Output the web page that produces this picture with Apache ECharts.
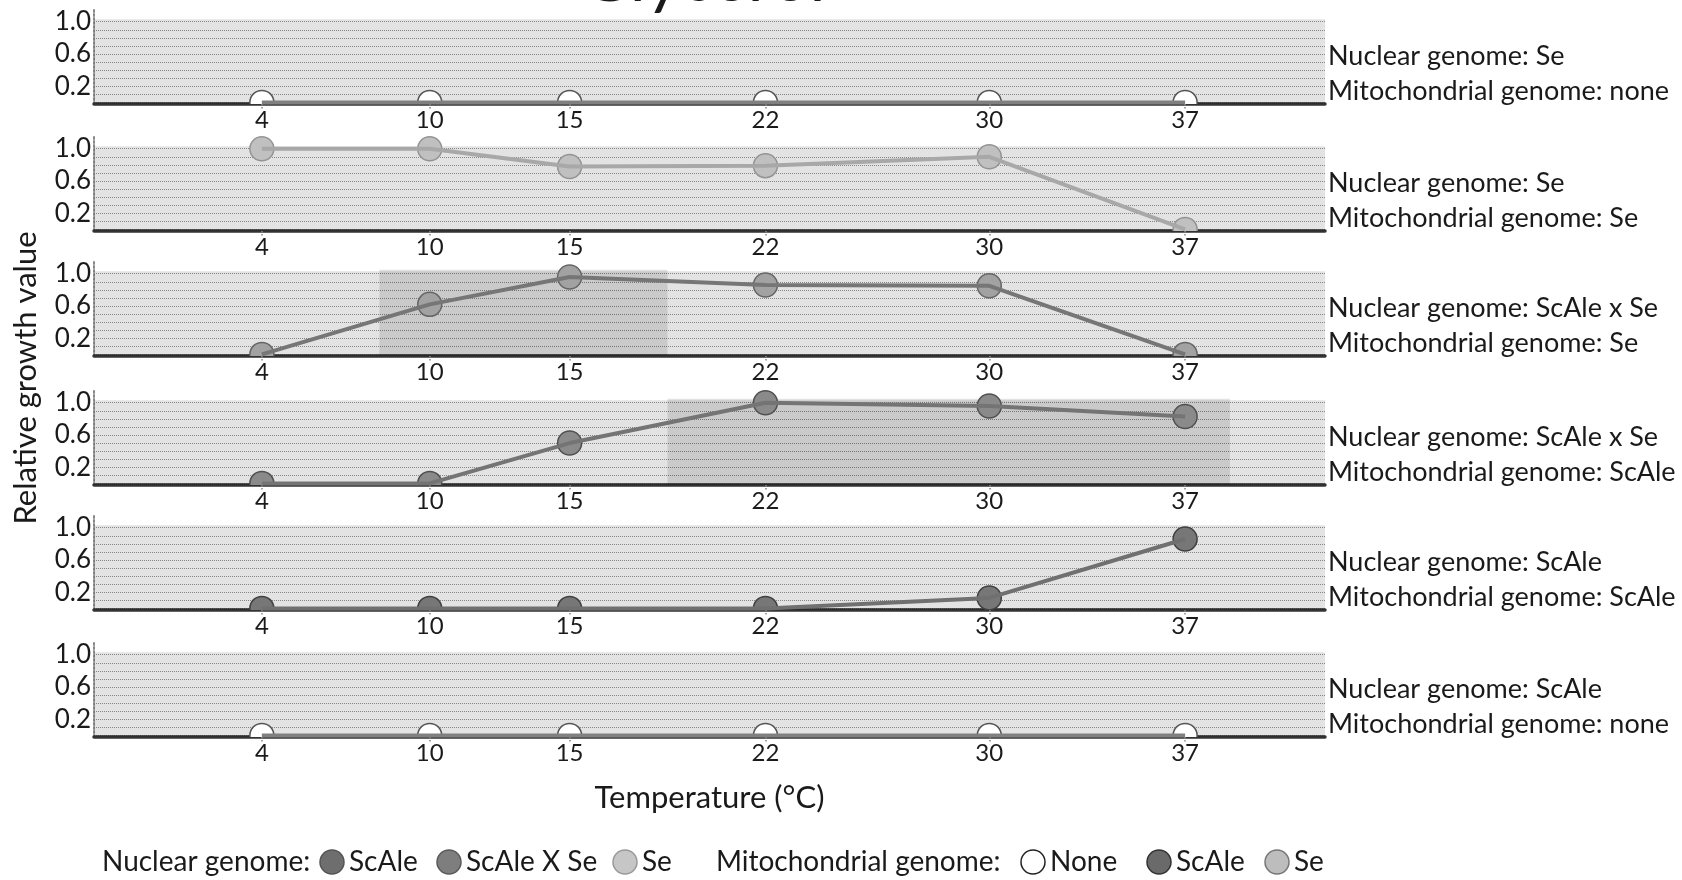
<!DOCTYPE html>
<html>
<head>
<meta charset="utf-8">
<title>Glycerol</title>
<script src="https://cdn.jsdelivr.net/npm/echarts@6/dist/echarts.min.js"></script>
<style>
  html, body { margin: 0; padding: 0; background: #fff; }
  #chart { width: 1682px; height: 880px; }
</style>
</head>
<body>
<div id="chart"></div>
<script>
// data
const temperatures = [4, 10, 15, 22, 30, 37];
const yTickLabels = [0.2, 0.6, 1.0];
const gridLineValues = [0, 0.1, 0.2, 0.3, 0.4, 0.5, 0.6, 0.7, 0.8, 0.9, 1.0];
const nuclearGenomes = ['Se', 'Se', 'ScAle x Se', 'ScAle x Se', 'ScAle', 'ScAle'];
const mitochondrialGenomes = ['none', 'Se', 'Se', 'ScAle', 'ScAle', 'none'];
const growthSeNone = [0, 0, 0, 0, 0, 0];
const growthSeSe = [1.0, 1.0, 0.78, 0.79, 0.9, 0];
const growthHybridSe = [0, 0.62, 0.96, 0.86, 0.85, 0];
const growthHybridScAle = [0, 0, 0.5, 1.0, 0.96, 0.83];
const growthScAleScAle = [0, 0, 0, 0, 0.13, 0.86];
const growthScAleNone = [0, 0, 0, 0, 0, 0];
// darker band behind the growth optimum (temperature range)
const shadedRanges = [null, null, [8.2, 18.5], [18.5, 38.6], null, null];
const nuclearLegend = ['ScAle', 'ScAle X Se', 'Se'];
const mitoLegend = ['None', 'ScAle', 'Se'];

const panels = [growthSeNone, growthSeSe, growthHybridSe, growthHybridScAle, growthScAleScAle, growthScAleNone];

// layout / look
const FONT = 'Lato, "Open Sans", sans-serif';
const baselines = [104, 231, 356, 485, 610, 737];
const GRID_LEFT = 94;
const GRID_WIDTH = 1231;
const GRID_HEIGHT = 96;
const X_MIN = -2, X_MAX = 42;
const Y_MIN = -0.02, Y_MAX = 1.17;
const MARKER_R = 12;
const panelStyles = [
  { line: '#808080', fill: '#ffffff', stroke: '#555' },
  { line: '#a8a8a8', fill: '#c0c0c0', stroke: '#949494' },
  { line: '#767676', fill: '#a2a2a2', stroke: '#666' },
  { line: '#747474', fill: '#8a8a8a', stroke: '#505050' },
  { line: '#707070', fill: '#777777', stroke: '#404040' },
  { line: '#808080', fill: '#ffffff', stroke: '#555' },
];
const nuclearLegendStyles = [
  { fill: '#6e6e6e', stroke: '#555' },
  { fill: '#7e7e7e', stroke: '#5a5a5a' },
  { fill: '#c6c6c6', stroke: '#999' },
];
const mitoLegendStyles = [
  { fill: '#ffffff', stroke: '#222' },
  { fill: '#6a6a6a', stroke: '#333' },
  { fill: '#bdbdbd', stroke: '#777' },
];

const chart = echarts.init(document.getElementById('chart'));

const grids = [];
const xAxes = [];
const yAxes = [];
const series = [];
const graphics = [];

panels.forEach((values, i) => {
  const style = panelStyles[i];
  const points = temperatures.map((t, k) => [t, values[k]]);
  grids.push({
    left: GRID_LEFT,
    width: GRID_WIDTH,
    top: baselines[i] - GRID_HEIGHT,
    height: GRID_HEIGHT,
  });
  xAxes.push({
    gridIndex: i,
    type: 'value',
    min: X_MIN,
    max: X_MAX,
    axisLine: { onZero: false, lineStyle: { color: '#333', width: 3.5 } },
    axisTick: { customValues: temperatures, length: 5, lineStyle: { color: '#888', type: 'dotted', width: 1.5 } },
    axisLabel: { customValues: temperatures, color: '#1a1a1a', fontSize: 24, fontFamily: FONT, margin: 4 },
    splitLine: { show: false },
    name: i === panels.length - 1 ? 'Temperature (°C)' : '',
    nameLocation: 'middle',
    nameGap: 45,
    nameTextStyle: { color: '#1a1a1a', fontSize: 31, fontFamily: FONT },
  });
  yAxes.push({
    gridIndex: i,
    type: 'value',
    min: Y_MIN,
    max: Y_MAX,
    axisLine: { show: true, onZero: false, lineStyle: { color: '#888', type: 'dotted', width: 2 } },
    axisTick: { show: false, customValues: gridLineValues },
    axisLabel: {
      customValues: yTickLabels,
      color: '#1a1a1a',
      fontSize: 26,
      fontFamily: FONT,
      margin: 3,
      formatter: (v) => v.toFixed(1),
    },
    splitLine: { show: true, lineStyle: { color: '#969696', type: 'dotted', width: 1 } },
  });

  const areas = [[{ xAxis: X_MIN, yAxis: Y_MIN }, { xAxis: X_MAX, yAxis: 1.03 }]];
  if (shadedRanges[i]) {
    areas.push([{ xAxis: shadedRanges[i][0], yAxis: Y_MIN }, { xAxis: shadedRanges[i][1], yAxis: 1.05 }]);
  }

  series.push({
    type: 'line',
    xAxisIndex: i,
    yAxisIndex: i,
    data: points,
    symbol: 'none',
    silent: true,
    lineStyle: { color: style.line, width: 4 },
    markArea: {
      silent: true,
      itemStyle: { color: 'rgba(0,0,0,0.11)' },
      data: areas,
    },
  });
  // markers, clipped at the baseline like in the figure
  series.push({
    type: 'custom',
    xAxisIndex: i,
    yAxisIndex: i,
    clip: true,
    silent: true,
    z: 3,
    data: points,
    renderItem: (params, api) => {
      const c = api.coord([api.value(0), api.value(1)]);
      return {
        type: 'circle',
        shape: { cx: c[0], cy: c[1], r: MARKER_R },
        style: { fill: style.fill, stroke: style.stroke, lineWidth: 1.5 },
      };
    },
  });

  graphics.push({
    type: 'text', x: 1328, y: baselines[i] - 48,
    style: { text: 'Nuclear genome: ' + nuclearGenomes[i], fill: '#1a1a1a', font: '27px ' + FONT, verticalAlign: 'middle' },
  });
  graphics.push({
    type: 'text', x: 1328, y: baselines[i] - 13,
    style: { text: 'Mitochondrial genome: ' + mitochondrialGenomes[i], fill: '#1a1a1a', font: '27px ' + FONT, verticalAlign: 'middle' },
  });
});

// title (cut off at the top edge in the figure)
graphics.push({
  type: 'text', x: 703, y: 13,
  style: { text: 'Glycerol', fill: '#1a1a1a', font: '68px ' + FONT, align: 'center', verticalAlign: 'bottom' },
});
// shared y axis title
graphics.push({
  type: 'text', x: 26, y: 378, rotation: Math.PI / 2,
  style: { text: 'Relative growth value', fill: '#1a1a1a', font: '31px ' + FONT, align: 'center', verticalAlign: 'middle' },
});

// legend row
const LEGEND_Y = 862;
const legendFont = '28px ' + FONT;
graphics.push({ type: 'text', x: 102, y: LEGEND_Y, style: { text: 'Nuclear genome:', fill: '#1a1a1a', font: legendFont, verticalAlign: 'middle' } });
const nuclearX = [332, 449, 625];
nuclearLegend.forEach((name, k) => {
  graphics.push({ type: 'circle', shape: { cx: nuclearX[k], cy: LEGEND_Y, r: MARKER_R }, style: { fill: nuclearLegendStyles[k].fill, stroke: nuclearLegendStyles[k].stroke, lineWidth: 1.5 } });
  graphics.push({ type: 'text', x: nuclearX[k] + 17, y: LEGEND_Y, style: { text: name, fill: '#1a1a1a', font: legendFont, verticalAlign: 'middle' } });
});
graphics.push({ type: 'text', x: 716, y: LEGEND_Y, style: { text: 'Mitochondrial genome:', fill: '#1a1a1a', font: legendFont, verticalAlign: 'middle' } });
const mitoX = [1033, 1159, 1277];
mitoLegend.forEach((name, k) => {
  graphics.push({ type: 'circle', shape: { cx: mitoX[k], cy: LEGEND_Y, r: MARKER_R }, style: { fill: mitoLegendStyles[k].fill, stroke: mitoLegendStyles[k].stroke, lineWidth: 1.5 } });
  graphics.push({ type: 'text', x: mitoX[k] + 17, y: LEGEND_Y, style: { text: name, fill: '#1a1a1a', font: legendFont, verticalAlign: 'middle' } });
});

chart.setOption({
  animation: false,
  backgroundColor: '#ffffff',
  textStyle: { fontFamily: FONT },
  grid: grids,
  xAxis: xAxes,
  yAxis: yAxes,
  series: series,
  graphic: graphics,
});
</script>
</body>
</html>
